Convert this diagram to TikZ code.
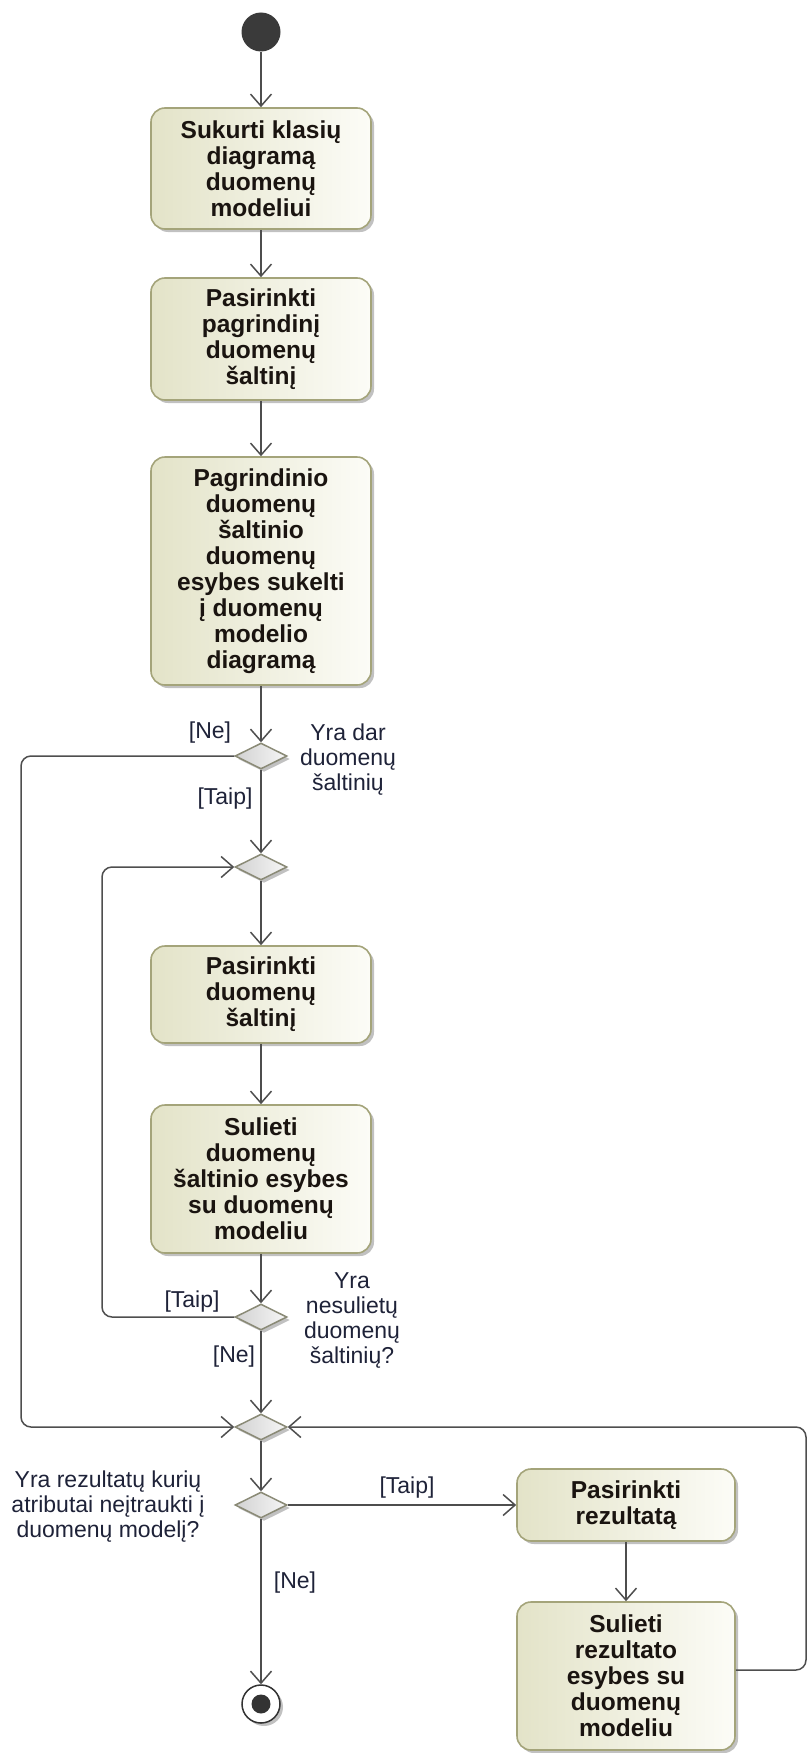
\documentclass[tikz,border=0pt]{standalone}
\usepackage{fontspec}
\setmainfont{Liberation Sans}
\usetikzlibrary{arrows.meta,shapes.geometric,shadows,calc}

\definecolor{actfillL}{HTML}{E3E3C8}
\definecolor{actfillR}{HTML}{FCFCF7}
\definecolor{actborder}{HTML}{A4A47A}
\definecolor{flow}{HTML}{4E4E4E}
\definecolor{decborder}{HTML}{8A8A76}
\definecolor{decfillL}{HTML}{D2D2D2}
\definecolor{decfillR}{HTML}{F6F6F6}
\definecolor{labeltext}{HTML}{1E2238}
\definecolor{acttext}{HTML}{1A1410}
\definecolor{initdot}{HTML}{3A3A3A}

\begin{document}
\begin{tikzpicture}[x=1pt,y=-1pt,
  umlshadow/.style={drop shadow={shadow xshift=3pt,shadow yshift=-3pt,opacity=0.35,fill=black!70}},
  action/.style={rectangle,rounded corners=14pt,draw=actborder,line width=1.6pt,
    left color=actfillL,right color=actfillR,minimum width=220pt,align=center,
    inner sep=0pt,text=acttext,font=\fontsize{24.5}{26}\selectfont\bfseries,umlshadow},
  decision/.style={diamond,draw=decborder,line width=1.5pt,left color=decfillL,
    right color=decfillR,minimum width=52pt,minimum height=26pt,inner sep=0pt,umlshadow},
  guard/.style={text=labeltext,font=\fontsize{23}{25}\selectfont,align=center,inner sep=0pt},
  flowline/.style={draw=flow,line width=1.5pt},
  flowarrow/.style={flowline,-{Straight Barb[length=12pt,width=21pt,line width=1.5pt]}},
  loop/.style={flowarrow,rounded corners=10pt}]

\useasboundingbox (0,0) rectangle (809,1753);

% initial and final nodes
\node[circle,fill=initdot,minimum size=39pt,inner sep=0pt] (start) at (261,32) {};
\node[circle,draw=black!80,line width=1.5pt,fill=white,minimum size=38pt,inner sep=0pt,umlshadow] (final) at (261,1704) {};
\node[circle,fill=black!80,minimum size=19pt,inner sep=0pt] (finaldot) at (final) {};

% actions
\node[action,minimum height=121pt] (b1) at (261,168.5) {Sukurti klasių\\diagramą\\duomenų\\modeliui};
\node[action,minimum height=122pt] (b2) at (261,339) {Pasirinkti\\pagrindinį\\duomenų\\šaltinį};
\node[action,minimum height=228pt] (b3) at (261,571) {Pagrindinio\\duomenų\\šaltinio\\duomenų\\esybes sukelti\\į duomenų\\modelio\\diagramą};
\node[action,minimum height=97pt] (b4) at (261,994.5) {Pasirinkti\\duomenų\\šaltinį};
\node[action,minimum height=148pt] (b5) at (261,1179) {Sulieti\\duomenų\\šaltinio esybes\\su duomenų\\modeliu};
\node[action,minimum width=218pt,minimum height=72pt] (b6) at (626,1505) {Pasirinkti\\rezultatą};
\node[action,minimum width=218pt,minimum height=148pt] (b7) at (626,1676) {Sulieti\\rezultato\\esybes su\\duomenų\\modeliu};

% decision / merge nodes
\node[decision] (d1) at (261,756) {};
\node[decision] (d2) at (261,867) {};
\node[decision] (d3) at (261,1317) {};
\node[decision] (d4) at (261,1427) {};
\node[decision] (d5) at (261,1505) {};

% decision notes
\node[guard] (q1) at (348,760) {Yra dar\\duomenų\\šaltinių};
\node[guard] (q3) at (352,1320) {Yra\\nesulietų\\duomenų\\šaltinių?};
\node[guard] (q5) at (108,1507) {Yra rezultatų kurių\\atributai neįtraukti į\\duomenų modelį?};

% guards
\node[guard] (g1ne) at (210,733) {[Ne]};
\node[guard] (g1taip) at (225,799) {[Taip]};
\node[guard] (g3taip) at (192,1302) {[Taip]};
\node[guard] (g3ne) at (234,1357) {[Ne]};
\node[guard] (g5taip) at (407,1488) {[Taip]};
\node[guard] (g5ne) at (295,1583) {[Ne]};

% bend points of the loops
\coordinate (c1a) at (21,756);
\coordinate (c1b) at (21,1427);
\coordinate (c3a) at (102,1317);
\coordinate (c3b) at (102,867);
\coordinate (c7s) at ($(b7.east)+(0,-6)$);
\coordinate (c7a) at (806,1670);
\coordinate (c7b) at (806,1427);

% control flow
\draw[flowarrow] (start) -- (b1);
\draw[flowarrow] (b1) -- (b2);
\draw[flowarrow] (b2) -- (b3);
\draw[flowarrow] (b3) -- (d1);
\draw[flowarrow] (d1) -- (d2);
\draw[loop] (d1.west) -- (c1a) -- (c1b) -- (d4.west);
\draw[flowarrow] (d2) -- (b4);
\draw[flowarrow] (b4) -- (b5);
\draw[flowarrow] (b5) -- (d3);
\draw[loop] (d3.west) -- (c3a) -- (c3b) -- (d2.west);
\draw[flowarrow] (d3) -- (d4);
\draw[flowarrow] (d4) -- (d5);
\draw[flowarrow] (d5.east) -- (b6.west);
\draw[flowarrow] (d5) -- (final);
\draw[flowarrow] (b6) -- (b7);
\draw[loop] (c7s) -- (c7a) -- (c7b) -- (d4.east);

\end{tikzpicture}
\end{document}
